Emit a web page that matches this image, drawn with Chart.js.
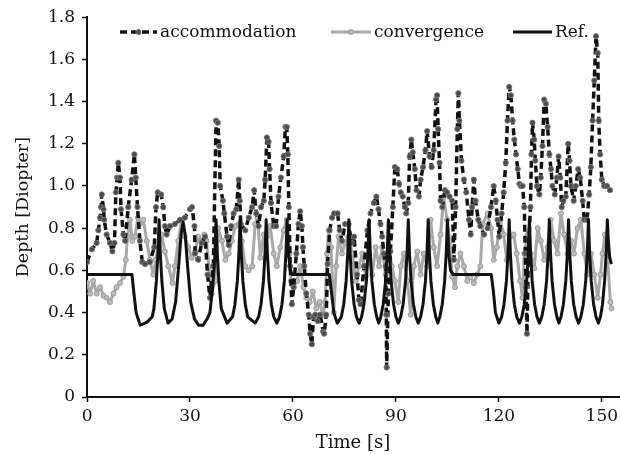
<!DOCTYPE html>
<html>
<head>
<meta charset="utf-8">
<script src="https://cdn.jsdelivr.net/npm/chart.js@4.4.1/dist/chart.umd.min.js"></script>
<style>
    html, body { margin: 0; padding: 0; background: #fff; }
    #wrap { width: 620px; height: 454px; position: relative; }
</style>
</head>
<body>
<div id="wrap"><canvas id="depth-chart"></canvas></div>
<script>
// Depth over time
const xTicks = [0, 30, 60, 90, 120, 150];
const yTicks = [0, 0.2, 0.4, 0.6, 0.8, 1, 1.2, 1.4, 1.6, 1.8];

const accTime = [0, 1.4, 2.8, 3.3, 3.8, 4.1, 4.3, 4.8, 5.0, 5.7, 6.7, 7.4, 8.0, 8.4, 8.8, 9.1, 9.6, 9.9, 10.6, 11.1,
    12.0, 13.0, 13.8, 14.2, 14.7, 15.4, 16.1, 16.9, 18.3, 19.6, 20.1, 20.6, 21.6, 22.2, 22.7, 23.2, 24.2, 25.6, 27.1, 28.5,
    30.0, 30.6, 31.3, 31.5, 32.4, 33.4, 34.4, 35.1, 35.8, 36.8, 37.6, 38.1, 38.5, 38.8, 39.6, 40.0, 40.8, 41.3, 42.0, 42.7,
    43.5, 44.2, 44.5, 44.8, 46.1, 47.1, 48.1, 48.7, 49.3, 50.0, 50.7, 51.5, 51.9, 52.4, 52.9, 53.2, 53.6, 54.4, 55.1, 55.8,
    56.5, 57.3, 57.8, 58.2, 58.5, 58.8, 59.2, 59.7, 60.2, 61.0, 61.6, 62.1, 62.6, 62.9, 63.3, 63.9, 64.6, 65.0, 65.5, 66.0,
    66.5, 67.2, 67.9, 68.8, 69.1, 69.7, 70.1, 70.7, 71.4, 72.0, 73.0, 73.6, 74.3, 75.2, 76.2, 77.1, 77.8, 78.7, 79.2, 79.7,
    80.7, 81.7, 82.6, 83.6, 84.3, 84.9, 85.5, 86.0, 86.5, 87.0, 87.2, 87.3, 87.8, 88.4, 89.1, 89.7, 90.4, 90.9, 91.4, 92.0,
    92.6, 93.0, 93.6, 94.0, 94.5, 94.9, 95.5, 96.0, 96.7, 97.2, 97.9, 98.6, 99.1, 99.8, 100.4, 101.0, 101.7, 102.0, 102.3, 102.7,
    103.0, 103.5, 104.3, 104.9, 105.6, 106.4, 106.9, 107.4, 107.9, 108.2, 108.5, 109.1, 109.8, 110.5, 111.3, 111.8, 112.2, 112.7, 113.2, 114.0,
    114.6, 115.7, 116.7, 117.7, 118.5, 119.1, 119.6, 120.1, 120.8, 121.4, 122.0, 122.5, 123.0, 123.5, 124.0, 124.5, 125.0, 125.5, 126.0, 126.4,
    126.9, 127.4, 127.7, 127.9, 128.2, 128.6, 129.2, 129.5, 129.8, 130.3, 130.6, 131.1, 131.8, 132.2, 132.7, 133.2, 133.7, 134.2, 134.7, 135.2,
    135.6, 136.3, 136.9, 137.4, 137.9, 138.3, 138.8, 139.5, 140.2, 140.6, 141.0, 141.8, 142.4, 143.1, 143.7, 144.4, 144.9, 145.7, 146.3, 146.8,
    147.3, 147.8, 148.3, 148.8, 149.1, 149.5, 150.0, 150.7, 151.5, 152.4];
const accDepth = [0.64, 0.70, 0.73, 0.79, 0.85, 0.90, 0.96, 0.89, 0.84, 0.77, 0.73, 0.69, 0.73, 0.97, 1.04, 1.11, 1.04, 0.89, 0.77, 0.74,
    0.90, 1.03, 1.15, 1.04, 0.90, 0.74, 0.64, 0.63, 0.64, 0.71, 0.90, 0.97, 0.96, 0.90, 0.81, 0.77, 0.81, 0.82, 0.84, 0.85,
    0.89, 0.90, 0.81, 0.68, 0.65, 0.73, 0.76, 0.58, 0.47, 0.62, 1.31, 1.30, 1.19, 1.00, 0.93, 0.87, 0.76, 0.72, 0.81, 0.87,
    0.89, 1.03, 0.93, 0.82, 0.79, 0.85, 0.90, 0.98, 0.87, 0.81, 0.90, 0.93, 1.03, 1.23, 1.21, 1.08, 0.92, 0.81, 0.81, 0.95,
    1.04, 1.14, 1.28, 1.28, 1.15, 0.90, 0.62, 0.44, 0.52, 0.68, 0.82, 0.88, 0.81, 0.71, 0.62, 0.49, 0.39, 0.30, 0.25, 0.38,
    0.39, 0.36, 0.39, 0.31, 0.30, 0.39, 0.63, 0.79, 0.85, 0.87, 0.87, 0.79, 0.74, 0.82, 0.82, 0.73, 0.76, 0.58, 0.46, 0.44,
    0.62, 0.79, 0.87, 0.92, 0.95, 0.89, 0.82, 0.76, 0.68, 0.62, 0.39, 0.14, 0.49, 0.69, 0.90, 1.09, 1.08, 1.01, 0.97, 0.95,
    0.90, 0.87, 0.92, 1.14, 1.22, 1.16, 1.08, 0.98, 0.95, 1.03, 1.09, 1.17, 1.26, 1.14, 1.09, 1.17, 1.41, 1.43, 1.27, 1.11,
    0.93, 0.90, 0.98, 0.97, 0.95, 0.93, 0.65, 0.90, 1.27, 1.44, 1.31, 1.12, 1.03, 0.97, 0.84, 0.77, 0.90, 1.03, 0.93, 0.84,
    0.81, 0.77, 0.80, 0.90, 1.00, 0.93, 0.84, 0.76, 0.87, 0.97, 1.11, 1.31, 1.47, 1.43, 1.31, 1.22, 1.15, 1.08, 1.01, 1.00,
    1.00, 0.90, 0.68, 0.52, 0.30, 0.68, 0.90, 1.15, 1.30, 1.22, 1.12, 1.00, 0.96, 1.04, 1.19, 1.41, 1.39, 1.28, 1.15, 1.08,
    1.00, 0.96, 1.04, 1.14, 1.04, 0.90, 0.93, 0.95, 1.20, 1.12, 1.00, 0.93, 1.00, 1.08, 1.04, 0.93, 0.84, 0.84, 0.96, 1.09,
    1.31, 1.50, 1.71, 1.63, 1.31, 1.15, 1.03, 1.00, 1.00, 0.98];

const convTime = [0, 0.9, 1.8, 2.8, 3.8, 4.8, 5.7, 6.7, 7.7, 8.6, 9.6, 10.6, 11.3, 11.8, 12.5, 13.2, 14.0, 14.8, 15.4, 16.4,
    17.4, 18.3, 19.3, 20.0, 20.8, 21.7, 22.7, 23.7, 24.9, 25.6, 26.6, 27.5, 28.5, 29.5, 30.5, 31.5, 32.4, 33.4, 34.2, 34.8,
    35.5, 36.3, 37.3, 38.2, 39.3, 40.3, 41.3, 42.2, 43.2, 44.2, 45.1, 46.1, 47.1, 48.1, 49.0, 49.7, 50.5, 51.5, 52.4, 53.4,
    54.4, 55.3, 56.3, 57.3, 58.2, 59.0, 59.4, 60.2, 61.2, 62.1, 63.1, 63.9, 64.9, 65.8, 66.8, 67.8, 68.7, 69.4, 69.9, 70.4,
    71.1, 71.9, 72.6, 73.3, 74.3, 75.2, 76.2, 77.3, 78.3, 79.2, 80.2, 81.2, 82.1, 83.1, 84.1, 85.1, 86.0, 87.0, 88.0, 88.8,
    89.7, 90.7, 91.4, 92.3, 93.3, 94.3, 95.2, 96.2, 97.2, 98.1, 99.1, 100.1, 101.0, 102.0, 103.0, 103.9, 104.9, 105.7, 106.4, 107.2,
    107.9, 108.8, 109.8, 110.8, 111.7, 112.7, 113.7, 114.6, 115.3, 116.7, 117.7, 118.5, 119.4, 120.4, 121.4, 122.3, 123.3, 124.3, 125.2, 126.2,
    126.9, 127.4, 128.4, 129.3, 130.3, 131.3, 132.2, 133.2, 134.2, 135.1, 136.1, 137.1, 138.1, 139.0, 140.0, 141.0, 141.9, 142.9, 143.9, 144.9,
    145.8, 146.8, 147.8, 148.8, 149.6, 150.2, 150.9, 151.7, 152.5, 152.8];
const convDepth = [0.54, 0.49, 0.55, 0.49, 0.52, 0.48, 0.47, 0.45, 0.49, 0.52, 0.54, 0.57, 0.65, 0.76, 0.84, 0.74, 0.76, 0.85, 0.82, 0.84,
    0.74, 0.65, 0.58, 0.65, 0.71, 0.77, 0.69, 0.62, 0.54, 0.62, 0.74, 0.84, 0.76, 0.71, 0.66, 0.69, 0.76, 0.74, 0.77, 0.74,
    0.62, 0.49, 0.55, 0.80, 0.74, 0.65, 0.68, 0.74, 0.81, 0.82, 0.74, 0.62, 0.60, 0.62, 0.82, 0.85, 0.66, 0.77, 0.76, 0.81,
    0.68, 0.62, 0.71, 0.79, 0.84, 0.68, 0.55, 0.52, 0.55, 0.62, 0.52, 0.47, 0.45, 0.50, 0.42, 0.45, 0.39, 0.45, 0.68, 0.79,
    0.71, 0.40, 0.62, 0.76, 0.68, 0.73, 0.76, 0.68, 0.55, 0.62, 0.68, 0.57, 0.68, 0.58, 0.71, 0.62, 0.71, 0.58, 0.71, 0.62,
    0.55, 0.45, 0.62, 0.68, 0.55, 0.39, 0.62, 0.69, 0.58, 0.68, 0.62, 0.84, 0.71, 0.62, 0.77, 0.95, 0.84, 0.74, 0.57, 0.52,
    0.62, 0.68, 0.62, 0.55, 0.57, 0.54, 0.58, 0.62, 0.82, 0.87, 0.80, 0.65, 0.71, 0.84, 0.77, 0.65, 0.76, 0.77, 0.68, 0.55,
    0.47, 0.68, 0.77, 0.68, 0.61, 0.80, 0.74, 0.65, 0.71, 0.84, 0.74, 0.68, 0.87, 0.77, 0.68, 0.74, 0.68, 0.80, 0.84, 0.68,
    0.58, 0.68, 0.58, 0.47, 0.58, 0.68, 0.77, 0.65, 0.45, 0.42];

const refTime = [0, 13.1, 13.6, 14.3, 15.5, 17.5, 19.0, 19.5, 20.2, 20.65, 21.0, 21.35, 21.8, 22.5, 23.6,
    24.8, 25.8, 26.7, 27.4, 28.0, 28.6, 29.3, 30.2, 31.3, 32.5, 33.8, 35.0, 35.8, 36.6, 37.2, 37.6, 37.95, 38.4, 39.1, 40.8,
    42.4, 43.1, 43.8, 44.25, 44.6, 44.95, 45.4, 46.1, 46.8, 49.0,
    50.0, 50.7, 51.4, 51.85, 52.2, 52.55, 53.0, 53.7, 54.4, 55.3,
    56.1, 56.8, 57.5, 57.95, 58.3, 58.7, 59.2, 59.8, 70.6, 71.2, 71.9, 72.9,
    74.1, 74.8, 75.5, 75.95, 76.3, 76.65, 77.1, 77.8, 78.5, 79.3,
    80.0, 80.7, 81.4, 81.85, 82.2, 82.55, 83.0, 83.7, 84.4, 85.0,
    85.6, 86.3, 87.0, 87.45, 87.8, 88.15, 88.6, 89.3, 90.0, 90.7,
    91.4, 92.1, 92.8, 93.25, 93.6, 93.95, 94.4, 95.1, 95.8, 96.5,
    97.2, 97.9, 98.6, 99.05, 99.4, 99.75, 100.2, 100.9, 101.6, 102.2,
    102.8, 103.5, 104.2, 104.65, 105.0, 105.4, 105.9, 106.7, 117.8, 118.4, 119.0, 120.0,
    120.8, 121.5, 122.2, 122.65, 123.0, 123.35, 123.8, 124.5, 125.2, 126.0,
    126.7, 127.4, 128.1, 128.55, 128.9, 129.25, 129.7, 130.4, 131.1, 131.8,
    132.5, 133.2, 133.9, 134.35, 134.7, 135.05, 135.5, 136.2, 136.9, 137.5,
    138.1, 138.8, 139.5, 139.95, 140.3, 140.65, 141.1, 141.8, 142.5, 143.2,
    143.9, 144.6, 145.3, 145.75, 146.1, 146.45, 146.9, 147.6, 148.3, 149.0,
    149.6, 150.2, 150.8, 151.25, 151.6, 151.9, 152.3, 152.8];
const refDepth = [0.58, 0.58, 0.50, 0.40, 0.34, 0.355, 0.38, 0.42, 0.55, 0.68, 0.84, 0.68, 0.55, 0.42, 0.35,
    0.37, 0.45, 0.62, 0.77, 0.83, 0.77, 0.62, 0.45, 0.37, 0.34, 0.34, 0.37, 0.40, 0.52, 0.65, 0.84, 0.68, 0.55, 0.42, 0.35,
    0.38, 0.44, 0.55, 0.68, 0.84, 0.68, 0.55, 0.44, 0.38, 0.35,
    0.38, 0.44, 0.55, 0.68, 0.84, 0.68, 0.55, 0.44, 0.38, 0.35,
    0.38, 0.44, 0.55, 0.68, 0.84, 0.68, 0.60, 0.58, 0.58, 0.50, 0.40, 0.35,
    0.38, 0.44, 0.55, 0.68, 0.84, 0.68, 0.55, 0.44, 0.38, 0.35,
    0.38, 0.44, 0.55, 0.68, 0.84, 0.68, 0.55, 0.44, 0.38, 0.35,
    0.38, 0.44, 0.55, 0.68, 0.84, 0.68, 0.55, 0.44, 0.38, 0.35,
    0.38, 0.44, 0.55, 0.68, 0.84, 0.68, 0.55, 0.44, 0.38, 0.35,
    0.38, 0.44, 0.55, 0.68, 0.84, 0.68, 0.55, 0.44, 0.38, 0.35,
    0.38, 0.44, 0.55, 0.68, 0.84, 0.68, 0.60, 0.58, 0.58, 0.50, 0.40, 0.35,
    0.38, 0.44, 0.55, 0.68, 0.84, 0.68, 0.55, 0.44, 0.38, 0.35,
    0.38, 0.44, 0.55, 0.68, 0.84, 0.68, 0.55, 0.44, 0.38, 0.35,
    0.38, 0.44, 0.55, 0.68, 0.84, 0.68, 0.55, 0.44, 0.38, 0.35,
    0.38, 0.44, 0.55, 0.68, 0.84, 0.68, 0.55, 0.44, 0.38, 0.35,
    0.38, 0.44, 0.55, 0.68, 0.84, 0.68, 0.55, 0.44, 0.38, 0.35,
    0.38, 0.44, 0.55, 0.68, 0.84, 0.74, 0.66, 0.63];

function toPoints(xs, ys) {
    return xs.map((x, i) => ({ x: x, y: ys[i] }));
}

// legend drawn inside the plot, one row along the top
const legendSlots = [
    { x: 120, len: 37 },
    { x: 331, len: 40 },
    { x: 513, len: 39 }
];

const insideLegend = {
    id: 'insideLegend',
    afterDraw(chart) {
        const c = chart.ctx;
        const y = 32;
        c.save();
        c.font = "17px 'DejaVu Serif', serif";
        c.textBaseline = 'middle';
        c.fillStyle = '#111';
        chart.data.datasets.forEach((ds, i) => {
            const slot = legendSlots[i];
            c.beginPath();
            c.setLineDash(ds.borderDash || []);
            c.strokeStyle = ds.borderColor;
            c.lineWidth = ds.borderWidth;
            c.moveTo(slot.x, y);
            c.lineTo(slot.x + slot.len, y);
            c.stroke();
            c.setLineDash([]);
            if (ds.pointRadius > 0) {
                c.beginPath();
                c.arc(slot.x + slot.len / 2, y, ds.pointRadius, 0, Math.PI * 2);
                c.fillStyle = ds.pointBackgroundColor;
                c.fill();
                c.strokeStyle = ds.pointBorderColor;
                c.lineWidth = 1;
                c.stroke();
            }
            c.fillStyle = '#111';
            c.fillText(ds.label, slot.x + slot.len + 3, y + 1);
        });
        c.restore();
    }
};

Chart.defaults.font.family = "'DejaVu Serif', serif";
Chart.defaults.font.size = 17;
Chart.defaults.color = '#111';

const ctx = document.getElementById('depth-chart');

new Chart(ctx, {
    type: 'line',
    data: {
        datasets: [
            {
                label: 'accommodation',
                data: toPoints(accTime, accDepth),
                borderColor: '#111',
                borderWidth: 3.5,
                borderDash: [7, 4],
                borderJoinStyle: 'round',
                pointRadius: 2.6,
                pointHoverRadius: 0,
                pointBackgroundColor: '#4a4a4a',
                pointBorderColor: '#777',
                pointBorderWidth: 1,
                tension: 0,
                order: 1
            },
            {
                label: 'convergence',
                data: toPoints(convTime, convDepth),
                borderColor: '#a8a8a8',
                borderWidth: 3,
                borderJoinStyle: 'round',
                pointRadius: 2.5,
                pointHoverRadius: 0,
                pointBackgroundColor: '#bdbdbd',
                pointBorderColor: '#999',
                pointBorderWidth: 1,
                tension: 0,
                order: 2
            },
            {
                label: 'Ref.',
                data: toPoints(refTime, refDepth),
                borderColor: '#111',
                borderWidth: 3,
                borderJoinStyle: 'round',
                pointRadius: 0,
                pointHoverRadius: 0,
                tension: 0,
                order: 0
            }
        ]
    },
    options: {
        responsive: true,
        maintainAspectRatio: false,
        animation: false,
        layout: { autoPadding: false, padding: { top: 16, right: 1, left: 13, bottom: 0 } },
        plugins: {
            legend: { display: false },
            tooltip: { enabled: false }
        },
        scales: {
            x: {
                type: 'linear',
                min: 0,
                max: 155,
                afterBuildTicks: (scale) => {
                    scale.ticks = xTicks.map(v => ({ value: v }));
                },
                afterFit: (scale) => {
                    scale.paddingRight = 0;
                },
                grid: { drawOnChartArea: false, tickLength: 5, tickColor: '#111', tickWidth: 1.5 },
                border: { color: '#111', width: 2 },
                ticks: { padding: 4 },
                title: { display: true, text: 'Time [s]', font: { size: 18 }, padding: { top: 2, bottom: 0 } }
            },
            y: {
                min: 0,
                max: 1.8,
                afterBuildTicks: (scale) => {
                    scale.ticks = yTicks.map(v => ({ value: v }));
                },
                grid: { drawOnChartArea: false, tickLength: 5, tickColor: '#111', tickWidth: 1.5 },
                border: { color: '#111', width: 2 },
                ticks: { padding: 7 },
                title: { display: true, text: 'Depth [Diopter]', font: { size: 17.5 }, padding: { top: 0, bottom: 7 } }
            }
        }
    },
    plugins: [insideLegend]
});
</script>
</body>
</html>
